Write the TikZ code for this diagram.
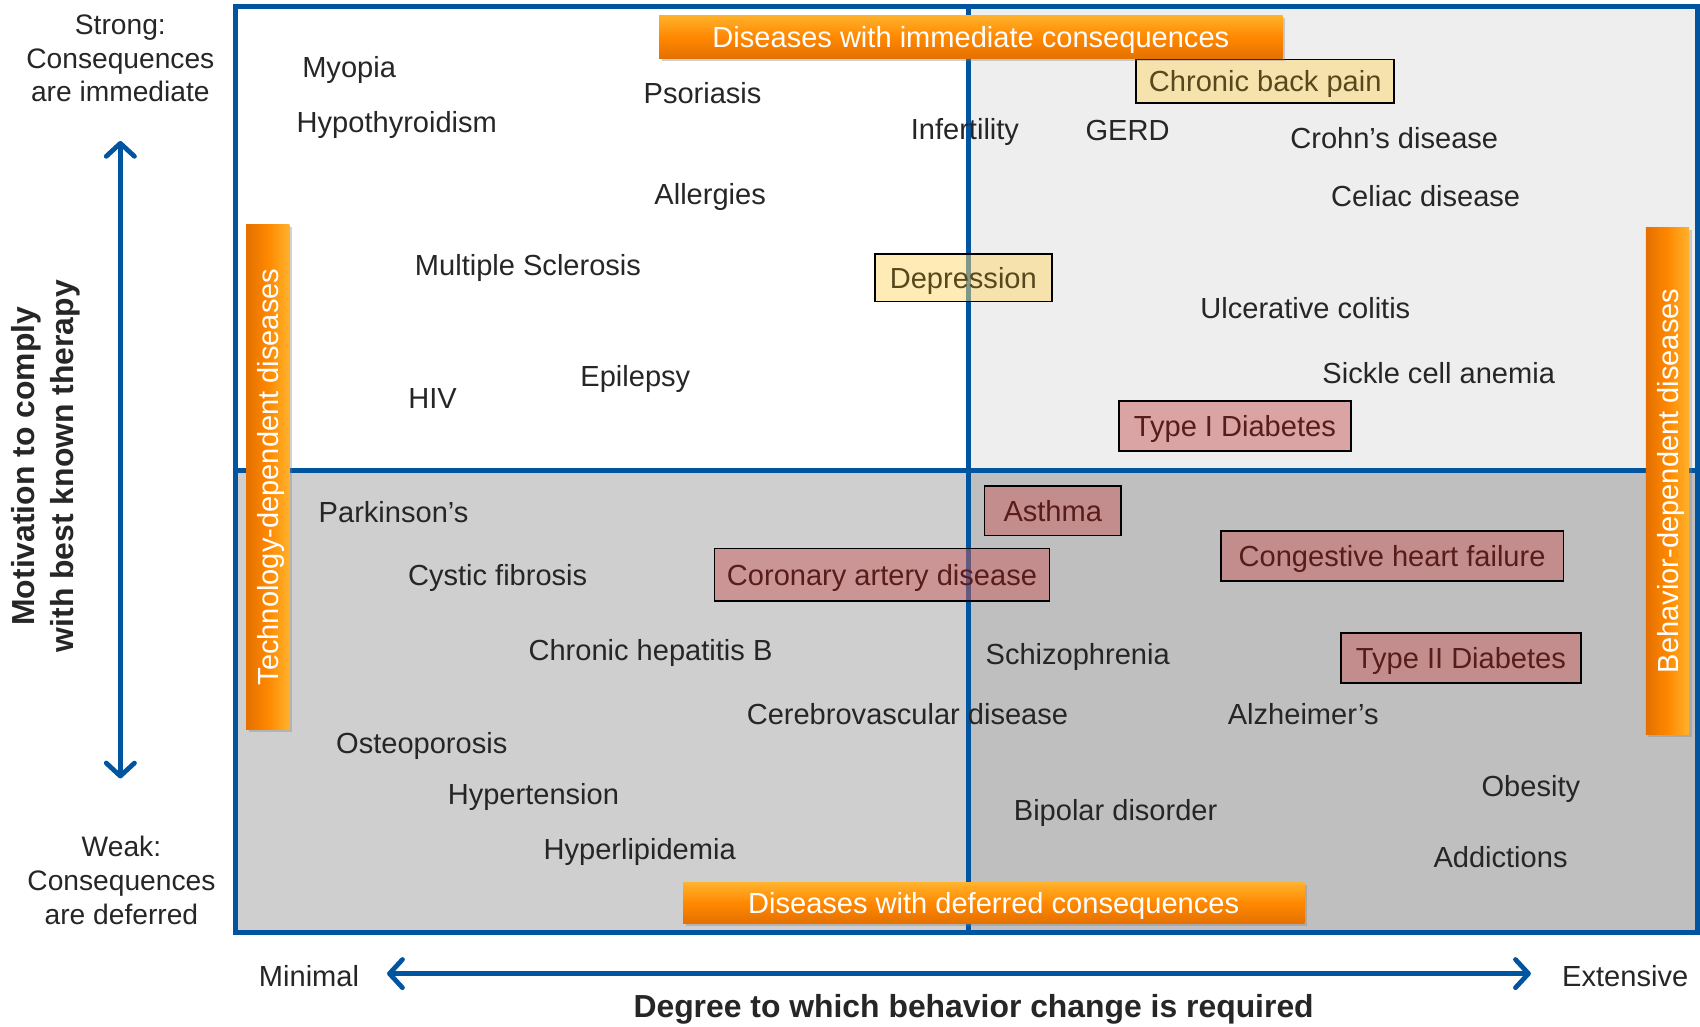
\documentclass[tikz,border=0pt]{standalone}
\usepackage{fontspec}
\setmainfont{Liberation Sans}
\usetikzlibrary{arrows.meta,shadows}

\definecolor{framecol}{RGB}{0,84,160}
\definecolor{qtr}{RGB}{238,238,238}
\definecolor{qbl}{RGB}{207,207,207}
\definecolor{qbr}{RGB}{191,191,191}
\definecolor{txtgray}{RGB}{38,38,38}
\definecolor{orgmain}{RGB}{255,136,0}
\definecolor{orglight}{RGB}{255,178,45}
\definecolor{orgdark}{RGB}{228,112,0}
\definecolor{yelbox}{RGB}{255,216,110}
\definecolor{yeltxt}{RGB}{88,72,28}
\definecolor{pinkbox}{RGB}{200,92,92}
\definecolor{pinktxt}{RGB}{88,28,28}

\begin{document}
\begin{tikzpicture}[x=0.5pt,y=-0.5pt,
  lbl/.style={font=\fontsize{13.4}{16}\selectfont, text=txtgray, inner sep=0pt},
  sidelbl/.style={font=\fontsize{13}{15.5}\selectfont, text=txtgray, align=center, inner sep=0pt},
  axistitle/.style={font=\fontsize{14.7}{18}\selectfont\bfseries, text=txtgray, align=center, inner sep=0pt},
  banner/.style={font=\fontsize{13.4}{16}\selectfont, text=white, inner sep=0pt, text depth=0pt,
    drop shadow={opacity=0.35, shadow xshift=1.2pt, shadow yshift=-1.2pt}},
  hbanner/.style={banner, top color=orglight, bottom color=orgdark, middle color=orgmain},
  vbanner/.style={banner, left color=orgdark, right color=orglight, middle color=orgmain, rotate=90},
  tagbox/.style={draw=black, line width=0.8pt, font=\fontsize{13.4}{16}\selectfont, inner sep=0pt, text depth=0pt},
  yeltag/.style={tagbox, fill=yelbox, fill opacity=0.5, text opacity=1, text=yeltxt},
  pinktag/.style={tagbox, fill=pinkbox, fill opacity=0.5, text opacity=1, text=pinktxt},
  divider/.style={draw=framecol, line width=2.2pt},
  axisarrow/.style={draw=framecol, line width=2.2pt, line cap=round,
    {Straight Barb[length=6pt,width=13pt,round]}-{Straight Barb[length=6pt,width=13pt,round]}}
]
\useasboundingbox (0,0) rectangle (1568,947);
\fill[white] (0,0) rectangle (1568,947);

% quadrant backgrounds
\fill[white] (217,6) rectangle (893,434);
\fill[qtr] (893,6) rectangle (1566,434);
\fill[qbl] (217,434) rectangle (893,860);
\fill[qbr] (893,434) rectangle (1566,860);

% dividers and frame
\draw[divider] (893,6) -- (893,860);
\draw[divider] (217,434) -- (1566,434);
\draw[framecol, line width=2.3pt] (217,6) rectangle (1566,860);

% plain disease labels
\node[lbl] (myopia) at (322,65) {Myopia};
\node[lbl] (hypothy) at (366,115) {Hypothyroidism};
\node[lbl] (psoriasis) at (648,86) {Psoriasis};
\node[lbl] (infert) at (890,122) {Infertility};
\node[lbl] (gerd) at (1040,120) {GERD};
\node[lbl] (crohn) at (1286,127) {Crohn’s disease};
\node[lbl] (celiac) at (1315,181) {Celiac disease};
\node[lbl] (allerg) at (655,182) {Allergies};
\node[lbl] (ms) at (487,247) {Multiple Sclerosis};
\node[lbl] (ulcer) at (1204,284) {Ulcerative colitis};
\node[lbl] (sickle) at (1327,344) {Sickle cell anemia};
\node[lbl] (hiv) at (399,368) {HIV};
\node[lbl] (epil) at (586,350) {Epilepsy};
\node[lbl] (parkin) at (363,472) {Parkinson’s};
\node[lbl] (cystic) at (459,533) {Cystic fibrosis};
\node[lbl] (hepb) at (600,602) {Chronic hepatitis B};
\node[lbl] (schizo) at (994,606) {Schizophrenia};
\node[lbl] (cerebro) at (837,659) {Cerebrovascular disease};
\node[lbl] (alzh) at (1202,659) {Alzheimer’s};
\node[lbl] (osteo) at (389,688) {Osteoporosis};
\node[lbl] (hypert) at (492,735) {Hypertension};
\node[lbl] (obesity) at (1412,728) {Obesity};
\node[lbl] (bipolar) at (1029,750) {Bipolar disorder};
\node[lbl] (hyperlip) at (590,786) {Hyperlipidemia};
\node[lbl] (addict) at (1384,791) {Addictions};

% highlighted disease tags
\node[yeltag, minimum width=119pt, minimum height=20pt] (backpain) at (1167,75) {Chronic back pain};
\node[yeltag, minimum width=81.5pt, minimum height=22pt] (depress) at (888.5,256) {Depression};
\node[pinktag, minimum width=107pt, minimum height=23pt] (type1) at (1139,393) {Type I Diabetes};
\node[pinktag, minimum width=63pt, minimum height=23pt] (asthma) at (971,471) {Asthma};
\node[pinktag, minimum width=154.5pt, minimum height=24pt] (coronary) at (813.5,530) {Coronary artery disease};
\node[pinktag, minimum width=158pt, minimum height=23pt] (chf) at (1284,513) {Congestive heart failure};
\node[pinktag, minimum width=110.5pt, minimum height=23pt] (type2) at (1347.5,607) {Type II Diabetes};

% orange category banners
\node[hbanner, minimum width=287.5pt, minimum height=20pt] (immediate) at (895.5,34) {Diseases with immediate consequences};
\node[hbanner, minimum width=286.5pt, minimum height=19pt] (deferred) at (916.5,833) {Diseases with deferred consequences};
\node[vbanner, minimum width=233pt, minimum height=20pt] (techdep) at (247,440) {Technology-dependent diseases};
\node[vbanner, minimum width=233.5pt, minimum height=20pt] (behavdep) at (1538,443.5) {Behavior-dependent diseases};

% vertical axis
\node[sidelbl] (strong) at (111,54) {Strong:\\Consequences\\are immediate};
\node[sidelbl] (weak) at (112,812) {Weak:\\Consequences\\are deferred};
\coordinate (vtop) at (111,130);
\coordinate (vbot) at (111,718);
\draw[axisarrow] (vbot) -- (vtop);
\node[axistitle, rotate=90] (motiv) at (42,430) {Motivation to comply\\with best known therapy};

% horizontal axis
\node[lbl] (minimal) at (285,900) {Minimal};
\node[lbl] (extensive) at (1499,900) {Extensive};
\coordinate (hleft) at (357,898);
\coordinate (hright) at (1412,898);
\draw[axisarrow] (hleft) -- (hright);
\node[axistitle] (degree) at (898,931) {Degree to which behavior change is required};
\end{tikzpicture}
\end{document}
